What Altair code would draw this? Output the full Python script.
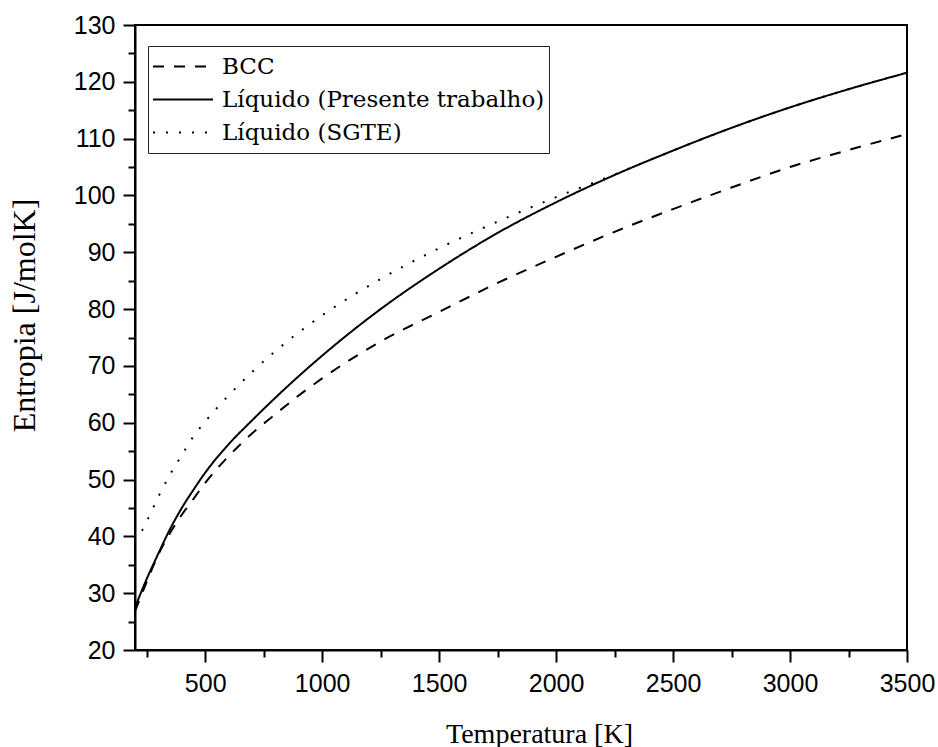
import altair as alt
import pandas as pd

# ---- data ----
temps = [200, 250, 300, 350, 400, 450, 500, 600, 700, 800, 900, 1000,
         1250, 1500, 1750, 2000, 2250, 2500, 2750, 3000, 3250, 3500]
bcc = [26.8, 32.0, 36.8, 40.6, 43.8, 46.6, 49.4, 54.1, 58.1, 61.5, 64.8, 67.8,
       74.3, 79.5, 84.6, 89.2, 93.6, 97.6, 101.4, 105.0, 108.0, 110.8]
liq_present = [27.5, 32.5, 37.0, 41.3, 45.0, 48.2, 51.2, 56.2, 60.4, 64.4, 68.2, 71.8,
               80.0, 87.1, 93.4, 98.8, 103.6, 107.9, 111.9, 115.5, 118.7, 121.6]
sgte_temps = [230, 250, 300, 350, 400, 450, 500, 600, 700, 800, 900, 1000,
              1250, 1500, 1750, 2000, 2250, 2500, 2750, 3000, 3250, 3500]
liq_sgte = [41.0, 42.6, 47.0, 50.9, 54.3, 57.6, 60.2, 64.8, 68.9, 72.6, 75.9, 78.9,
            85.3, 90.7, 95.4, 99.7, 103.7, 107.9, 111.9, 115.5, 118.7, 121.6]

series_names = ["BCC", "Líquido (Presente trabalho)", "Líquido (SGTE)"]
x_tick_values = list(range(250, 3501, 250))
y_tick_values = list(range(20, 131, 5))

rows = []
for t, s in zip(temps, bcc):
    rows.append({"T": t, "S": s, "serie": series_names[0]})
for t, s in zip(temps, liq_present):
    rows.append({"T": t, "S": s, "serie": series_names[1]})
for t, s in zip(sgte_temps, liq_sgte):
    rows.append({"T": t, "S": s, "serie": series_names[2]})
df = pd.DataFrame(rows)

x_axis = alt.Axis(
    values=x_tick_values,
    format="d",
    labelExpr="datum.value % 500 === 0 ? datum.label : ''",
    tickSize={"condition": {"test": "datum.value % 500 === 0", "value": 12}, "value": 7},
    labelFont="Liberation Sans", labelFontSize=25, labelColor="black",
    labelPadding=9, labelFlush=False, labelOverlap=False,
    title="Temperatura [K]", titleFont="Liberation Serif", titleFontSize=28,
    titleFontWeight="normal", titleColor="black",
    titleX=404, titleY=92, titleBaseline="alphabetic", titleAlign="center",
    domainColor="black", domainWidth=2, tickColor="black", tickWidth=2,
    grid=False,
)
y_axis = alt.Axis(
    values=y_tick_values,
    format="d",
    labelExpr="datum.value % 10 === 0 ? datum.label : ''",
    tickSize={"condition": {"test": "datum.value % 10 === 0", "value": 12}, "value": 7},
    labelFont="Liberation Sans", labelFontSize=25, labelColor="black",
    labelPadding=8, labelFlush=False, labelOverlap=False,
    title="Entropia [J/molK]", titleFont="Liberation Serif", titleFontSize=32,
    titleFontWeight="normal", titleColor="black", titleAngle=270,
    titleX=-101, titleY=290, titleBaseline="alphabetic", titleAlign="center",
    domainColor="black", domainWidth=2, tickColor="black", tickWidth=2,
    grid=False,
)

chart = alt.Chart(df).mark_line(color="black", strokeWidth=2, interpolate="monotone").encode(
    x=alt.X("T:Q", scale=alt.Scale(domain=[200, 3500], nice=False, zero=False), axis=x_axis),
    y=alt.Y("S:Q", scale=alt.Scale(domain=[20, 130], nice=False, zero=False), axis=y_axis),
    strokeDash=alt.StrokeDash(
        "serie:N",
        scale=alt.Scale(domain=series_names, range=[[11, 10], [1, 0], [2, 11]]),
        sort=series_names,
        legend=alt.Legend(
            orient="none", legendX=13, legendY=21, title=None,
            symbolType="stroke", symbolSize=3600, symbolStrokeWidth=2,
            symbolStrokeColor="black",
            labelFont="DejaVu Serif", labelFontSize=23, labelColor="black",
            labelOffset=8, clipHeight=33, rowPadding=0, padding=4,
            strokeColor="#222222", fillColor="white", labelLimit=600,
        ),
    ),
    detail="serie:N",
).properties(
    width=772, height=625,
    autosize=alt.AutoSizeParams(type="none"),
    padding={"left": 135, "top": 25, "right": 31, "bottom": 97},
).configure(
    background="white",
    view=alt.ViewConfig(stroke="black", strokeWidth=2),
)

chart.save("out.html", embed_options={"renderer": "svg", "actions": False})
